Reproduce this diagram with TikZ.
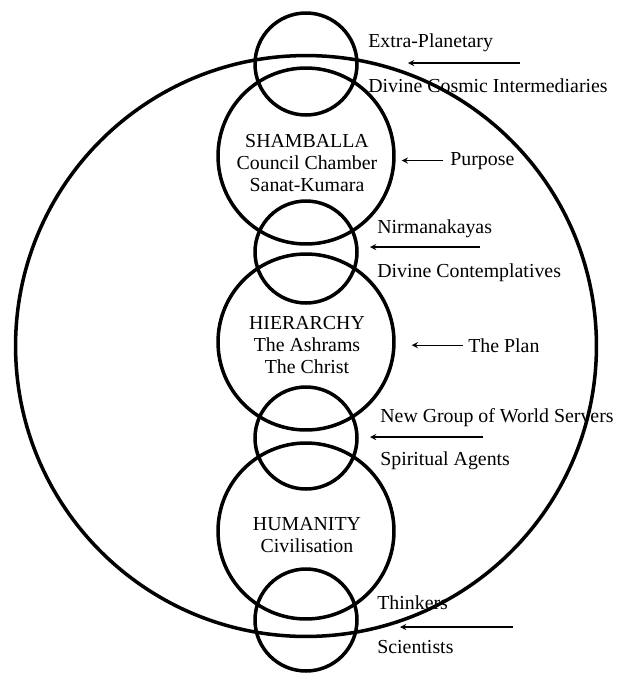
\documentclass[tikz,border=0pt]{standalone}
\usepackage{fontspec}
\setmainfont{Liberation Serif}
\usetikzlibrary{positioning}

\begin{document}
\begin{tikzpicture}[>=stealth, x=0.02cm, y=-0.02cm,
        ring/.style={draw, circle, line width=2pt, inner sep=0pt},
        plane/.style={ring, minimum size=3.52cm},
        link/.style={ring, minimum size=2.04cm},
        txt/.style={font=\fontsize{11.3}{12.7}\selectfont, inner sep=0pt},
        side/.style={txt, anchor=base west},
        pointer/.style={->, line width=0.6pt}]
        \useasboundingbox (0,0) rectangle (616,673);
        \node[ring, minimum size=11.62cm] (world) at (306,346) {};
        \node[link] (cosmic) at (306,64) {};
        \node[plane] (shamballa) at (306,156) {};
        \node[link] (contemplatives) at (306,252) {};
        \node[plane] (hierarchy) at (306,342) {};
        \node[link] (servers) at (306,438) {};
        \node[plane] (humanity) at (306,531) {};
        \node[link] (scientists) at (306,620) {};
        \node[txt, align=center] (shamballaText) at (307,163) {SHAMBALLA\\Council Chamber\\Sanat-Kumara};
        \node[txt, align=center] (hierarchyText) at (307,345) {HIERARCHY\\The Ashrams\\The Christ};
        \node[txt, align=center] (humanityText) at (307,535) {HUMANITY\\Civilisation};
        \node[side] (extraPlanetary) at (368,47) {Extra-Planetary};
        \node[side] (cosmicInter) at (368,92) {Divine Cosmic Intermediaries};
        \node[side] (purpose) at (450,165) {Purpose};
        \node[side] (nirmanakayas) at (377,233) {Nirmanakayas};
        \node[side] (divineContemp) at (377,277) {Divine Contemplatives};
        \node[side] (plan) at (468,352) {The Plan};
        \node[side] (ngws) at (380,422) {New Group of World Servers};
        \node[side] (agents) at (380,465) {Spiritual Agents};
        \node[side] (thinkers) at (377,609) {Thinkers};
        \node[side] (scientistsLbl) at (377,653) {Scientists};
        \coordinate (cosmicTail) at (520,63);
        \coordinate (cosmicTip) at (408,63);
        \coordinate (contempTail) at (480,247);
        \coordinate (contempTip) at (370,247);
        \coordinate (serversTail) at (483,437);
        \coordinate (serversTip) at (370,437);
        \coordinate (thinkTail) at (513,627);
        \coordinate (thinkTip) at (400,627);
        \draw[pointer] (cosmicTail) -- (cosmicTip);
        \draw[pointer, shorten <=0.14cm, shorten >=0.12cm] (purpose.west) -- (purpose.west -| shamballa.east);
        \draw[pointer] (contempTail) -- (contempTip);
        \draw[pointer, shorten <=0.1cm, shorten >=0.32cm] (plan.west) -- (plan.west -| hierarchy.east);
        \draw[pointer] (serversTail) -- (serversTip);
        \draw[pointer] (thinkTail) -- (thinkTip);
    \end{tikzpicture}
\end{document}
